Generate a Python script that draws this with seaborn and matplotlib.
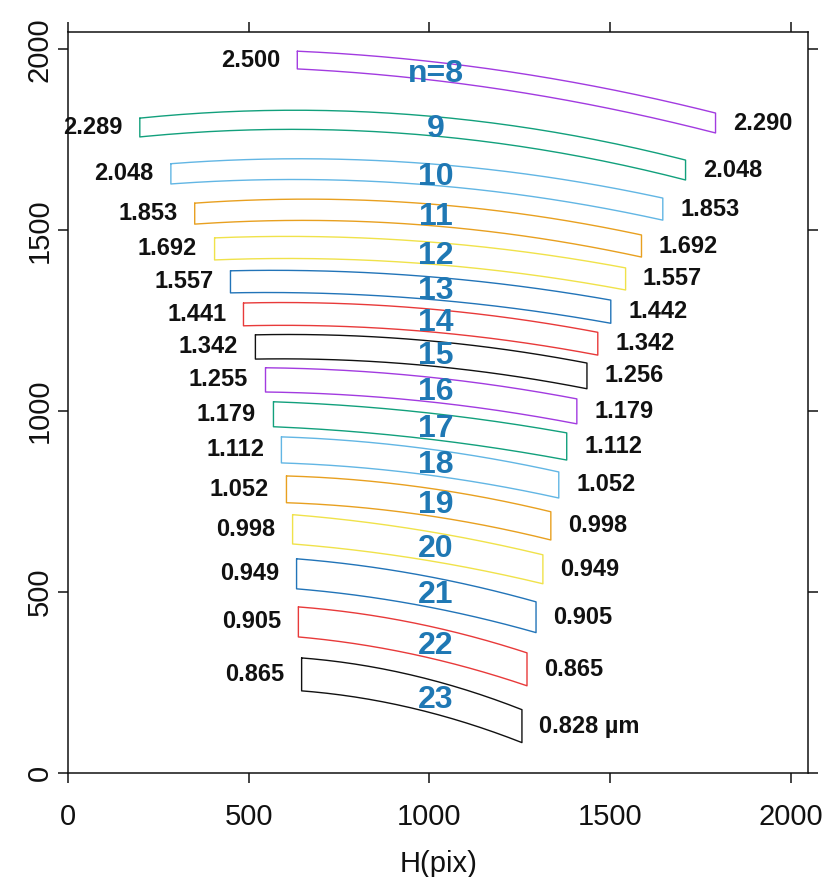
import numpy as np
import pandas as pd
import matplotlib
matplotlib.use("Agg")
import matplotlib.pyplot as plt
import seaborn as sns

# echelle orders on the detector (pixel coordinates)
orders = [8, 9, 10, 11, 12, 13, 14, 15, 16, 17, 18, 19, 20, 21, 22, 23]
lam_left = ["2.500", "2.289", "2.048", "1.853", "1.692", "1.557", "1.441", "1.342",
            "1.255", "1.179", "1.112", "1.052", "0.998", "0.949", "0.905", "0.865"]
lam_right = ["2.290", "2.048", "1.853", "1.692", "1.557", "1.442", "1.342", "1.256",
             "1.179", "1.112", "1.052", "0.998", "0.949", "0.905", "0.865", "0.828 µm"]

x_left = [634, 198, 284, 350, 405, 449, 485, 518, 546, 568, 590, 604, 621, 632, 637, 646]
x_right = [1792, 1709, 1646, 1587, 1543, 1502, 1466, 1436, 1408, 1380, 1358, 1336, 1314, 1295, 1270, 1256]
x_mid = 970
top_left = [1995, 1810, 1684, 1575, 1479, 1388, 1299, 1211, 1120, 1026, 929, 821, 714, 592, 459, 318]
bot_left = [1946, 1758, 1628, 1517, 1418, 1327, 1236, 1144, 1053, 957, 857, 747, 633, 509, 376, 227]
top_mid = [1970, 1818, 1686, 1575, 1470, 1374, 1285, 1197, 1097, 998, 899, 791, 672, 548, 412, 266]
top_right = [1824, 1694, 1589, 1487, 1396, 1307, 1218, 1133, 1034, 940, 832, 722, 603, 473, 332, 175]
bot_right = [1769, 1639, 1528, 1426, 1335, 1243, 1155, 1062, 965, 865, 760, 644, 523, 388, 241, 84]

cycle = ["#a23be0", "#12a07c", "#62b6e4", "#e8a020", "#f0e24a", "#2274b8", "#e83a3a", "#111111"]

rows = []
centres = []
for i, n in enumerate(orders):
    coef = np.polyfit([x_left[i], x_mid, x_right[i]],
                      [top_left[i], top_mid[i], top_right[i]], 2)
    xs = np.linspace(x_left[i], x_right[i], 80)
    top = np.polyval(coef, xs)
    h = np.interp(xs, [x_left[i], x_right[i]],
                  [top_left[i] - bot_left[i], top_right[i] - bot_right[i]])
    bot = top - h
    ox = np.concatenate([xs, xs[::-1], xs[:1]])
    oy = np.concatenate([top, bot[::-1], top[:1]])
    for k, (a, b) in enumerate(zip(ox, oy)):
        rows.append({"order": n, "idx": k, "x": a, "y": b})
    xc = 1018
    yc = np.polyval(coef, xc) - np.interp(xc, xs, h) / 2
    centres.append(yc)

df = pd.DataFrame(rows)

sns.set_theme(style="ticks")
plt.rcParams["font.family"] = ["Liberation Sans", "DejaVu Sans"]

fig = plt.figure(figsize=(8.36, 8.77), dpi=100)
ax = fig.add_axes([0.0817, 0.1186, 0.8848, 0.8449])

palette = {n: cycle[i % 8] for i, n in enumerate(orders)}
sns.lineplot(data=df, x="x", y="y", hue="order", units="order", estimator=None,
             sort=False, palette=palette, linewidth=1.0, legend=False, ax=ax)

for i, n in enumerate(orders):
    ax.text(x_left[i] - 48, (top_left[i] + bot_left[i]) / 2, lam_left[i],
            ha="right", va="center", fontsize=17, fontweight="bold", color="#111111")
    ax.text(x_right[i] + 48, (top_right[i] + bot_right[i]) / 2, lam_right[i],
            ha="left", va="center", fontsize=17, fontweight="bold", color="#111111")
    lab = "n=8" if n == 8 else str(n)
    ax.text(1018, centres[i] - 6, lab, ha="center", va="center", fontsize=23,
            fontweight="bold", color="#1f78b4")

ax.set_xlim(0, 2048)
ax.set_ylim(0, 2048)
ticks = [0, 500, 1000, 1500, 2000]
ax.set_xticks(ticks)
ax.set_yticks(ticks)
ax.tick_params(direction="out", length=7.5, width=1.1, color="#111111",
               top=True, right=True, labelsize=21, labelcolor="#111111")
ax.tick_params(axis="x", pad=14)
ax.tick_params(axis="y", pad=3, labelrotation=90)
for lab in ax.get_yticklabels():
    lab.set_verticalalignment("center")
for s in ax.spines.values():
    s.set_visible(True)
    s.set_linewidth(1.1)
    s.set_color("#111111")
ax.set_xlabel("H(pix)", fontsize=21, labelpad=14, color="#111111")
ax.set_ylabel("")

fig.savefig("out.png", dpi=100)
